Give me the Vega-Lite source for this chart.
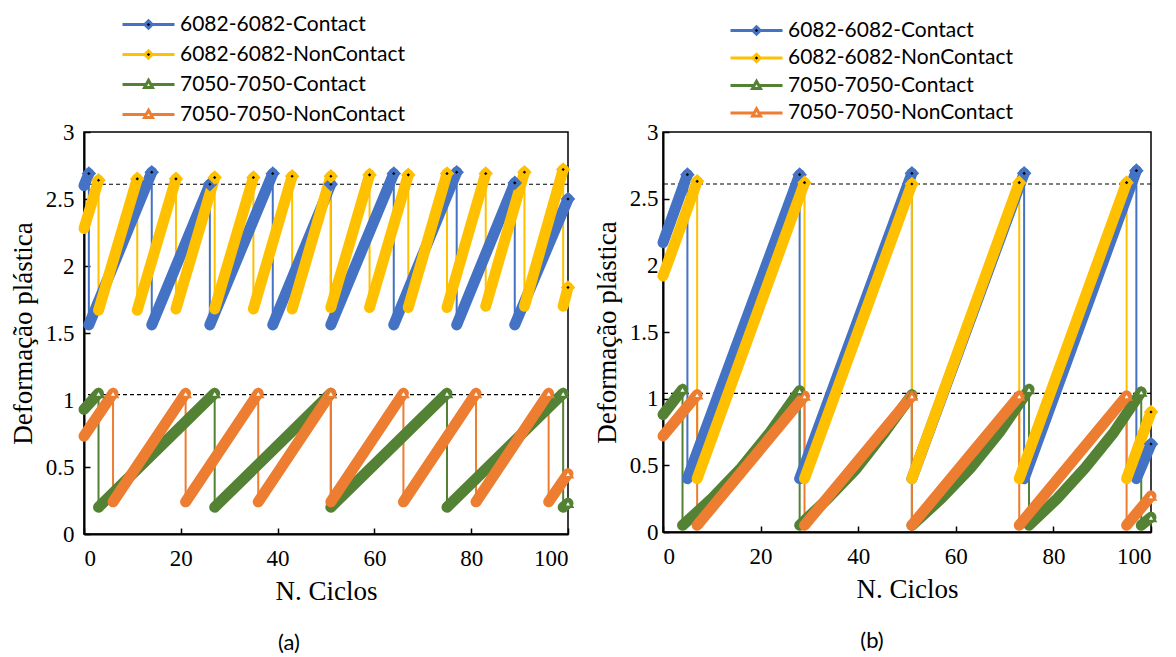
{
  "$schema": "https://vega.github.io/schema/vega-lite/v6.json",
  "background": "white",
  "padding": {"left": 8, "top": 13, "right": 5, "bottom": 5},
  "spacing": 1,
  "config": {
    "view": {"stroke": "black", "strokeWidth": 1.5},
    "axis": {
      "grid": false,
      "labelFont": "Liberation Serif",
      "labelFontSize": 23,
      "labelColor": "black",
      "titleFont": "Liberation Serif",
      "titleFontSize": 27,
      "titleFontWeight": "normal",
      "titleColor": "black",
      "domainColor": "black",
      "domainWidth": 2,
      "tickColor": "black",
      "tickWidth": 1.5,
      "tickSize": -6
    }
  },
  "datasets": {
    "limites": [{"limite": 2.61}, {"limite": 1.04}],
    "medidas": [
      {"painel": "a", "serie": "6082-6082-Contact", "rampa": 0, "ciclo": 0, "def": 2.60},
      {"painel": "a", "serie": "6082-6082-Contact", "rampa": 0, "ciclo": 1, "def": 2.69},
      {"painel": "a", "serie": "6082-6082-Contact", "rampa": 1, "ciclo": 1, "def": 1.56},
      {"painel": "a", "serie": "6082-6082-Contact", "rampa": 1, "ciclo": 14, "def": 2.70},
      {"painel": "a", "serie": "6082-6082-Contact", "rampa": 2, "ciclo": 14, "def": 1.56},
      {"painel": "a", "serie": "6082-6082-Contact", "rampa": 2, "ciclo": 26, "def": 2.61},
      {"painel": "a", "serie": "6082-6082-Contact", "rampa": 3, "ciclo": 26, "def": 1.56},
      {"painel": "a", "serie": "6082-6082-Contact", "rampa": 3, "ciclo": 39, "def": 2.69},
      {"painel": "a", "serie": "6082-6082-Contact", "rampa": 4, "ciclo": 39, "def": 1.56},
      {"painel": "a", "serie": "6082-6082-Contact", "rampa": 4, "ciclo": 51, "def": 2.61},
      {"painel": "a", "serie": "6082-6082-Contact", "rampa": 5, "ciclo": 51, "def": 1.56},
      {"painel": "a", "serie": "6082-6082-Contact", "rampa": 5, "ciclo": 64, "def": 2.69},
      {"painel": "a", "serie": "6082-6082-Contact", "rampa": 6, "ciclo": 64, "def": 1.56},
      {"painel": "a", "serie": "6082-6082-Contact", "rampa": 6, "ciclo": 77, "def": 2.70},
      {"painel": "a", "serie": "6082-6082-Contact", "rampa": 7, "ciclo": 77, "def": 1.56},
      {"painel": "a", "serie": "6082-6082-Contact", "rampa": 7, "ciclo": 89, "def": 2.62},
      {"painel": "a", "serie": "6082-6082-Contact", "rampa": 8, "ciclo": 89, "def": 1.56},
      {"painel": "a", "serie": "6082-6082-Contact", "rampa": 8, "ciclo": 100, "def": 2.50},

      {"painel": "a", "serie": "6082-6082-NonContact", "rampa": 0, "ciclo": 0, "def": 2.28},
      {"painel": "a", "serie": "6082-6082-NonContact", "rampa": 0, "ciclo": 3, "def": 2.64},
      {"painel": "a", "serie": "6082-6082-NonContact", "rampa": 1, "ciclo": 3, "def": 1.67},
      {"painel": "a", "serie": "6082-6082-NonContact", "rampa": 1, "ciclo": 11, "def": 2.65},
      {"painel": "a", "serie": "6082-6082-NonContact", "rampa": 2, "ciclo": 11, "def": 1.67},
      {"painel": "a", "serie": "6082-6082-NonContact", "rampa": 2, "ciclo": 19, "def": 2.65},
      {"painel": "a", "serie": "6082-6082-NonContact", "rampa": 3, "ciclo": 19, "def": 1.68},
      {"painel": "a", "serie": "6082-6082-NonContact", "rampa": 3, "ciclo": 27, "def": 2.66},
      {"painel": "a", "serie": "6082-6082-NonContact", "rampa": 4, "ciclo": 27, "def": 1.68},
      {"painel": "a", "serie": "6082-6082-NonContact", "rampa": 4, "ciclo": 35, "def": 2.66},
      {"painel": "a", "serie": "6082-6082-NonContact", "rampa": 5, "ciclo": 35, "def": 1.68},
      {"painel": "a", "serie": "6082-6082-NonContact", "rampa": 5, "ciclo": 43, "def": 2.67},
      {"painel": "a", "serie": "6082-6082-NonContact", "rampa": 6, "ciclo": 43, "def": 1.68},
      {"painel": "a", "serie": "6082-6082-NonContact", "rampa": 6, "ciclo": 51, "def": 2.67},
      {"painel": "a", "serie": "6082-6082-NonContact", "rampa": 7, "ciclo": 51, "def": 1.69},
      {"painel": "a", "serie": "6082-6082-NonContact", "rampa": 7, "ciclo": 59, "def": 2.68},
      {"painel": "a", "serie": "6082-6082-NonContact", "rampa": 8, "ciclo": 59, "def": 1.69},
      {"painel": "a", "serie": "6082-6082-NonContact", "rampa": 8, "ciclo": 67, "def": 2.68},
      {"painel": "a", "serie": "6082-6082-NonContact", "rampa": 9, "ciclo": 67, "def": 1.69},
      {"painel": "a", "serie": "6082-6082-NonContact", "rampa": 9, "ciclo": 75, "def": 2.69},
      {"painel": "a", "serie": "6082-6082-NonContact", "rampa": 10, "ciclo": 75, "def": 1.69},
      {"painel": "a", "serie": "6082-6082-NonContact", "rampa": 10, "ciclo": 83, "def": 2.69},
      {"painel": "a", "serie": "6082-6082-NonContact", "rampa": 11, "ciclo": 83, "def": 1.70},
      {"painel": "a", "serie": "6082-6082-NonContact", "rampa": 11, "ciclo": 91, "def": 2.70},
      {"painel": "a", "serie": "6082-6082-NonContact", "rampa": 12, "ciclo": 91, "def": 1.70},
      {"painel": "a", "serie": "6082-6082-NonContact", "rampa": 12, "ciclo": 99, "def": 2.72},
      {"painel": "a", "serie": "6082-6082-NonContact", "rampa": 13, "ciclo": 99, "def": 1.70},
      {"painel": "a", "serie": "6082-6082-NonContact", "rampa": 13, "ciclo": 100, "def": 1.84},

      {"painel": "a", "serie": "7050-7050-Contact", "rampa": 0, "ciclo": 0, "def": 0.93},
      {"painel": "a", "serie": "7050-7050-Contact", "rampa": 0, "ciclo": 3, "def": 1.05},
      {"painel": "a", "serie": "7050-7050-Contact", "rampa": 1, "ciclo": 3, "def": 0.20},
      {"painel": "a", "serie": "7050-7050-Contact", "rampa": 1, "ciclo": 27, "def": 1.05},
      {"painel": "a", "serie": "7050-7050-Contact", "rampa": 2, "ciclo": 27, "def": 0.20},
      {"painel": "a", "serie": "7050-7050-Contact", "rampa": 2, "ciclo": 51, "def": 1.05},
      {"painel": "a", "serie": "7050-7050-Contact", "rampa": 3, "ciclo": 51, "def": 0.20},
      {"painel": "a", "serie": "7050-7050-Contact", "rampa": 3, "ciclo": 75, "def": 1.05},
      {"painel": "a", "serie": "7050-7050-Contact", "rampa": 4, "ciclo": 75, "def": 0.20},
      {"painel": "a", "serie": "7050-7050-Contact", "rampa": 4, "ciclo": 99, "def": 1.05},
      {"painel": "a", "serie": "7050-7050-Contact", "rampa": 5, "ciclo": 99, "def": 0.20},
      {"painel": "a", "serie": "7050-7050-Contact", "rampa": 5, "ciclo": 100, "def": 0.23},

      {"painel": "a", "serie": "7050-7050-NonContact", "rampa": 0, "ciclo": 0, "def": 0.73},
      {"painel": "a", "serie": "7050-7050-NonContact", "rampa": 0, "ciclo": 6, "def": 1.05},
      {"painel": "a", "serie": "7050-7050-NonContact", "rampa": 1, "ciclo": 6, "def": 0.24},
      {"painel": "a", "serie": "7050-7050-NonContact", "rampa": 1, "ciclo": 21, "def": 1.05},
      {"painel": "a", "serie": "7050-7050-NonContact", "rampa": 2, "ciclo": 21, "def": 0.24},
      {"painel": "a", "serie": "7050-7050-NonContact", "rampa": 2, "ciclo": 36, "def": 1.05},
      {"painel": "a", "serie": "7050-7050-NonContact", "rampa": 3, "ciclo": 36, "def": 0.24},
      {"painel": "a", "serie": "7050-7050-NonContact", "rampa": 3, "ciclo": 51, "def": 1.05},
      {"painel": "a", "serie": "7050-7050-NonContact", "rampa": 4, "ciclo": 51, "def": 0.24},
      {"painel": "a", "serie": "7050-7050-NonContact", "rampa": 4, "ciclo": 66, "def": 1.05},
      {"painel": "a", "serie": "7050-7050-NonContact", "rampa": 5, "ciclo": 66, "def": 0.24},
      {"painel": "a", "serie": "7050-7050-NonContact", "rampa": 5, "ciclo": 81, "def": 1.05},
      {"painel": "a", "serie": "7050-7050-NonContact", "rampa": 6, "ciclo": 81, "def": 0.24},
      {"painel": "a", "serie": "7050-7050-NonContact", "rampa": 6, "ciclo": 96, "def": 1.05},
      {"painel": "a", "serie": "7050-7050-NonContact", "rampa": 7, "ciclo": 96, "def": 0.24},
      {"painel": "a", "serie": "7050-7050-NonContact", "rampa": 7, "ciclo": 100, "def": 0.45},

      {"painel": "b", "serie": "6082-6082-Contact", "rampa": 0, "ciclo": 0, "def": 2.17},
      {"painel": "b", "serie": "6082-6082-Contact", "rampa": 0, "ciclo": 5, "def": 2.68},
      {"painel": "b", "serie": "6082-6082-Contact", "rampa": 1, "ciclo": 5, "def": 0.40},
      {"painel": "b", "serie": "6082-6082-Contact", "rampa": 1, "ciclo": 28, "def": 2.68},
      {"painel": "b", "serie": "6082-6082-Contact", "rampa": 2, "ciclo": 28, "def": 0.40},
      {"painel": "b", "serie": "6082-6082-Contact", "rampa": 2, "ciclo": 51, "def": 2.69},
      {"painel": "b", "serie": "6082-6082-Contact", "rampa": 3, "ciclo": 51, "def": 0.40},
      {"painel": "b", "serie": "6082-6082-Contact", "rampa": 3, "ciclo": 74, "def": 2.69},
      {"painel": "b", "serie": "6082-6082-Contact", "rampa": 4, "ciclo": 74, "def": 0.40},
      {"painel": "b", "serie": "6082-6082-Contact", "rampa": 4, "ciclo": 97, "def": 2.71},
      {"painel": "b", "serie": "6082-6082-Contact", "rampa": 5, "ciclo": 97, "def": 0.40},
      {"painel": "b", "serie": "6082-6082-Contact", "rampa": 5, "ciclo": 100, "def": 0.66},

      {"painel": "b", "serie": "6082-6082-NonContact", "rampa": 0, "ciclo": 0, "def": 1.92},
      {"painel": "b", "serie": "6082-6082-NonContact", "rampa": 0, "ciclo": 7, "def": 2.63},
      {"painel": "b", "serie": "6082-6082-NonContact", "rampa": 1, "ciclo": 7, "def": 0.40},
      {"painel": "b", "serie": "6082-6082-NonContact", "rampa": 1, "ciclo": 29, "def": 2.62},
      {"painel": "b", "serie": "6082-6082-NonContact", "rampa": 2, "ciclo": 29, "def": 0.40},
      {"painel": "b", "serie": "6082-6082-NonContact", "rampa": 2, "ciclo": 51, "def": 2.61},
      {"painel": "b", "serie": "6082-6082-NonContact", "rampa": 3, "ciclo": 51, "def": 0.40},
      {"painel": "b", "serie": "6082-6082-NonContact", "rampa": 3, "ciclo": 73, "def": 2.62},
      {"painel": "b", "serie": "6082-6082-NonContact", "rampa": 4, "ciclo": 73, "def": 0.40},
      {"painel": "b", "serie": "6082-6082-NonContact", "rampa": 4, "ciclo": 95, "def": 2.62},
      {"painel": "b", "serie": "6082-6082-NonContact", "rampa": 5, "ciclo": 95, "def": 0.40},
      {"painel": "b", "serie": "6082-6082-NonContact", "rampa": 5, "ciclo": 100, "def": 0.90},

      {"painel": "b", "serie": "7050-7050-Contact", "rampa": 0, "ciclo": 0, "def": 0.88},
      {"painel": "b", "serie": "7050-7050-Contact", "rampa": 0, "ciclo": 4, "def": 1.07},
      {"painel": "b", "serie": "7050-7050-Contact", "rampa": 1, "ciclo": 4, "def": 0.05},
      {"painel": "b", "serie": "7050-7050-Contact", "rampa": 1, "ciclo": 10, "def": 0.25},
      {"painel": "b", "serie": "7050-7050-Contact", "rampa": 1, "ciclo": 16, "def": 0.48},
      {"painel": "b", "serie": "7050-7050-Contact", "rampa": 1, "ciclo": 22, "def": 0.75},
      {"painel": "b", "serie": "7050-7050-Contact", "rampa": 1, "ciclo": 28, "def": 1.06},
      {"painel": "b", "serie": "7050-7050-Contact", "rampa": 2, "ciclo": 28, "def": 0.05},
      {"painel": "b", "serie": "7050-7050-Contact", "rampa": 2, "ciclo": 33.75, "def": 0.25},
      {"painel": "b", "serie": "7050-7050-Contact", "rampa": 2, "ciclo": 39.5, "def": 0.47},
      {"painel": "b", "serie": "7050-7050-Contact", "rampa": 2, "ciclo": 45.25, "def": 0.74},
      {"painel": "b", "serie": "7050-7050-Contact", "rampa": 2, "ciclo": 51, "def": 1.03},
      {"painel": "b", "serie": "7050-7050-Contact", "rampa": 3, "ciclo": 51, "def": 0.05},
      {"painel": "b", "serie": "7050-7050-Contact", "rampa": 3, "ciclo": 57, "def": 0.25},
      {"painel": "b", "serie": "7050-7050-Contact", "rampa": 3, "ciclo": 63, "def": 0.48},
      {"painel": "b", "serie": "7050-7050-Contact", "rampa": 3, "ciclo": 69, "def": 0.75},
      {"painel": "b", "serie": "7050-7050-Contact", "rampa": 3, "ciclo": 75, "def": 1.07},
      {"painel": "b", "serie": "7050-7050-Contact", "rampa": 4, "ciclo": 75, "def": 0.05},
      {"painel": "b", "serie": "7050-7050-Contact", "rampa": 4, "ciclo": 80.75, "def": 0.25},
      {"painel": "b", "serie": "7050-7050-Contact", "rampa": 4, "ciclo": 86.5, "def": 0.48},
      {"painel": "b", "serie": "7050-7050-Contact", "rampa": 4, "ciclo": 92.25, "def": 0.74},
      {"painel": "b", "serie": "7050-7050-Contact", "rampa": 4, "ciclo": 98, "def": 1.05},
      {"painel": "b", "serie": "7050-7050-Contact", "rampa": 5, "ciclo": 98, "def": 0.05},
      {"painel": "b", "serie": "7050-7050-Contact", "rampa": 5, "ciclo": 100, "def": 0.11},

      {"painel": "b", "serie": "7050-7050-NonContact", "rampa": 0, "ciclo": 0, "def": 0.72},
      {"painel": "b", "serie": "7050-7050-NonContact", "rampa": 0, "ciclo": 7, "def": 1.03},
      {"painel": "b", "serie": "7050-7050-NonContact", "rampa": 1, "ciclo": 7, "def": 0.05},
      {"painel": "b", "serie": "7050-7050-NonContact", "rampa": 1, "ciclo": 29, "def": 1.02},
      {"painel": "b", "serie": "7050-7050-NonContact", "rampa": 2, "ciclo": 29, "def": 0.05},
      {"painel": "b", "serie": "7050-7050-NonContact", "rampa": 2, "ciclo": 51, "def": 1.02},
      {"painel": "b", "serie": "7050-7050-NonContact", "rampa": 3, "ciclo": 51, "def": 0.05},
      {"painel": "b", "serie": "7050-7050-NonContact", "rampa": 3, "ciclo": 73, "def": 1.02},
      {"painel": "b", "serie": "7050-7050-NonContact", "rampa": 4, "ciclo": 73, "def": 0.05},
      {"painel": "b", "serie": "7050-7050-NonContact", "rampa": 4, "ciclo": 95, "def": 1.02},
      {"painel": "b", "serie": "7050-7050-NonContact", "rampa": 5, "ciclo": 95, "def": 0.05},
      {"painel": "b", "serie": "7050-7050-NonContact", "rampa": 5, "ciclo": 100, "def": 0.27}
    ]
  },
  "resolve": {
    "scale": {"color": "independent", "stroke": "independent", "x": "independent", "y": "independent"},
    "legend": {"color": "independent"}
  },
  "hconcat": [
    {
      "width": 484,
      "height": 402,
      "title": {"text": "(a)", "orient": "bottom", "anchor": "middle", "offset": 29, "dx": -37,
                "font": "Lato", "fontSize": 22, "fontWeight": "normal", "color": "black"},
      "layer": [
        {
          "data": {"name": "limites"},
          "mark": {"type": "rule", "color": "black", "strokeWidth": 1.2, "strokeDash": [4, 3]},
          "encoding": {"y": {"field": "limite", "type": "quantitative", "scale": {"domain": [0, 3]}}}
        },
        {
          "data": {"name": "medidas"},
          "transform": [{"filter": "datum.painel === 'a'"}],
          "mark": {"type": "line", "strokeWidth": 2},
          "encoding": {
            "x": {"field": "ciclo", "type": "quantitative", "scale": {"domain": [0, 100], "nice": false},
                  "axis": {"title": "N. Ciclos", "values": [0, 20, 40, 60, 80, 100], "labelPadding": 19, "titlePadding": 8}},
            "y": {"field": "def", "type": "quantitative", "scale": {"domain": [0, 3], "nice": false},
                  "axis": {"title": "Deformação plástica", "values": [0, 0.5, 1, 1.5, 2, 2.5, 3], "format": "~g", "labelPadding": 16, "titlePadding": 8}},
            "color": {
              "field": "serie", "type": "nominal",
              "scale": {"domain": ["6082-6082-Contact", "6082-6082-NonContact", "7050-7050-Contact", "7050-7050-NonContact"],
                        "range": ["#4472C4", "#FFC000", "#548235", "#ED7D31"]},
              "legend": {
                "title": null, "orient": "none", "legendX": 54, "legendY": -118, "direction": "vertical",
                "padding": 0, "symbolSize": 100, "symbolStrokeWidth": 3, "labelOffset": 21, "rowPadding": 8,
                "labelFont": "Lato", "labelFontSize": 21, "labelColor": "black", "labelLimit": 0,
                "encode": {"symbols": {"update": {
                  "shape": {"signal": "indexof(datum.value, '6082') >= 0 ? 'M-5.2,0H-0.6M0.6,0H5.2M0,-0.75L0.75,0L0,0.75L-0.75,0Z' : 'M-5.2,0H-0.6M0.6,0H5.2M0,-0.85L0.8,0.6L-0.8,0.6Z'"},
                  "fill": {"signal": "indexof(datum.value, '6082') >= 0 ? 'black' : 'white'"},
                  "stroke": {"signal": "datum.value === '6082-6082-Contact' ? '#4472C4' : datum.value === '6082-6082-NonContact' ? '#FFC000' : datum.value === '7050-7050-Contact' ? '#548235' : '#ED7D31'"},
                  "strokeWidth": {"value": 3},
                  "fillOpacity": {"value": 1},
                  "size": {"value": 100}
                }}}
              }
            },
            "order": [{"field": "rampa", "type": "quantitative"}, {"field": "ciclo", "type": "quantitative"}]
          }
        },
        {
          "data": {"name": "medidas"},
          "transform": [{"filter": "datum.painel === 'a'"}],
          "mark": {"type": "line", "strokeWidth": 11, "strokeCap": "round"},
          "encoding": {
            "x": {"field": "ciclo", "type": "quantitative"},
            "y": {"field": "def", "type": "quantitative"},
            "color": {"field": "serie", "type": "nominal"},
            "detail": {"field": "rampa", "type": "nominal"},
            "order": {"field": "ciclo", "type": "quantitative"}
          }
        },
        {
          "data": {"name": "medidas"},
          "transform": [
            {"filter": "datum.painel === 'a' && indexof(datum.serie, '6082') === 0"},
            {"joinaggregate": [{"op": "max", "field": "ciclo", "as": "fim"}], "groupby": ["serie", "rampa"]},
            {"filter": "datum.ciclo === datum.fim"}
          ],
          "mark": {"type": "point", "shape": "diamond", "filled": true, "fill": "black", "size": 80, "strokeWidth": 4, "opacity": 1},
          "encoding": {
            "x": {"field": "ciclo", "type": "quantitative"},
            "y": {"field": "def", "type": "quantitative"},
            "stroke": {"field": "serie", "type": "nominal", "legend": null,
                       "scale": {"domain": ["6082-6082-Contact", "6082-6082-NonContact", "7050-7050-Contact", "7050-7050-NonContact"],
                                 "range": ["#4472C4", "#FFC000", "#548235", "#ED7D31"]}}
          }
        },
        {
          "data": {"name": "medidas"},
          "transform": [
            {"filter": "datum.painel === 'a' && indexof(datum.serie, '7050') === 0"},
            {"joinaggregate": [{"op": "max", "field": "ciclo", "as": "fim"}], "groupby": ["serie", "rampa"]},
            {"filter": "datum.ciclo === datum.fim"}
          ],
          "mark": {"type": "point", "shape": "triangle-up", "filled": true, "fill": "white", "size": 70, "strokeWidth": 2.5, "opacity": 1},
          "encoding": {
            "x": {"field": "ciclo", "type": "quantitative"},
            "y": {"field": "def", "type": "quantitative"},
            "stroke": {"field": "serie", "type": "nominal", "legend": null}
          }
        }
      ]
    },
    {
      "width": 488,
      "height": 400,
      "title": {"text": "(b)", "orient": "bottom", "anchor": "middle", "offset": 29, "dx": -35,
                "font": "Lato", "fontSize": 22, "fontWeight": "normal", "color": "black"},
      "layer": [
        {
          "data": {"name": "limites"},
          "mark": {"type": "rule", "color": "black", "strokeWidth": 1.2, "strokeDash": [4, 3]},
          "encoding": {"y": {"field": "limite", "type": "quantitative", "scale": {"domain": [0, 3]}}}
        },
        {
          "data": {"name": "medidas"},
          "transform": [{"filter": "datum.painel === 'b'"}],
          "mark": {"type": "line", "strokeWidth": 2},
          "encoding": {
            "x": {"field": "ciclo", "type": "quantitative", "scale": {"domain": [0, 100], "nice": false},
                  "axis": {"title": "N. Ciclos", "values": [0, 20, 40, 60, 80, 100], "labelPadding": 19, "titlePadding": 8}},
            "y": {"field": "def", "type": "quantitative", "scale": {"domain": [0, 3], "nice": false},
                  "axis": {"title": "Deformação plástica", "values": [0, 0.5, 1, 1.5, 2, 2.5, 3], "format": "~g", "labelPadding": 11, "titlePadding": 8}},
            "color": {
              "field": "serie", "type": "nominal",
              "scale": {"domain": ["6082-6082-Contact", "6082-6082-NonContact", "7050-7050-Contact", "7050-7050-NonContact"],
                        "range": ["#4472C4", "#FFC000", "#548235", "#ED7D31"]},
              "legend": {
                "title": null, "orient": "none", "legendX": 83, "legendY": -112, "direction": "vertical",
                "padding": 0, "symbolSize": 100, "symbolStrokeWidth": 3, "labelOffset": 21, "rowPadding": 5.5,
                "labelFont": "Lato", "labelFontSize": 21, "labelColor": "black", "labelLimit": 0,
                "encode": {"symbols": {"update": {
                  "shape": {"signal": "indexof(datum.value, '6082') >= 0 ? 'M-5.2,0H-0.6M0.6,0H5.2M0,-0.75L0.75,0L0,0.75L-0.75,0Z' : 'M-5.2,0H-0.6M0.6,0H5.2M0,-0.85L0.8,0.6L-0.8,0.6Z'"},
                  "fill": {"signal": "indexof(datum.value, '6082') >= 0 ? 'black' : 'white'"},
                  "stroke": {"signal": "datum.value === '6082-6082-Contact' ? '#4472C4' : datum.value === '6082-6082-NonContact' ? '#FFC000' : datum.value === '7050-7050-Contact' ? '#548235' : '#ED7D31'"},
                  "strokeWidth": {"value": 3},
                  "fillOpacity": {"value": 1},
                  "size": {"value": 100}
                }}}
              }
            },
            "order": [{"field": "rampa", "type": "quantitative"}, {"field": "ciclo", "type": "quantitative"}]
          }
        },
        {
          "data": {"name": "medidas"},
          "transform": [{"filter": "datum.painel === 'b'"}],
          "mark": {"type": "line", "strokeWidth": 11, "strokeCap": "round"},
          "encoding": {
            "x": {"field": "ciclo", "type": "quantitative"},
            "y": {"field": "def", "type": "quantitative"},
            "color": {"field": "serie", "type": "nominal"},
            "detail": {"field": "rampa", "type": "nominal"},
            "order": {"field": "ciclo", "type": "quantitative"}
          }
        },
        {
          "data": {"name": "medidas"},
          "transform": [
            {"filter": "datum.painel === 'b' && indexof(datum.serie, '6082') === 0"},
            {"joinaggregate": [{"op": "max", "field": "ciclo", "as": "fim"}], "groupby": ["serie", "rampa"]},
            {"filter": "datum.ciclo === datum.fim"}
          ],
          "mark": {"type": "point", "shape": "diamond", "filled": true, "fill": "black", "size": 80, "strokeWidth": 4, "opacity": 1},
          "encoding": {
            "x": {"field": "ciclo", "type": "quantitative"},
            "y": {"field": "def", "type": "quantitative"},
            "stroke": {"field": "serie", "type": "nominal", "legend": null,
                       "scale": {"domain": ["6082-6082-Contact", "6082-6082-NonContact", "7050-7050-Contact", "7050-7050-NonContact"],
                                 "range": ["#4472C4", "#FFC000", "#548235", "#ED7D31"]}}
          }
        },
        {
          "data": {"name": "medidas"},
          "transform": [
            {"filter": "datum.painel === 'b' && indexof(datum.serie, '7050') === 0"},
            {"joinaggregate": [{"op": "max", "field": "ciclo", "as": "fim"}], "groupby": ["serie", "rampa"]},
            {"filter": "datum.ciclo === datum.fim"}
          ],
          "mark": {"type": "point", "shape": "triangle-up", "filled": true, "fill": "white", "size": 70, "strokeWidth": 2.5, "opacity": 1},
          "encoding": {
            "x": {"field": "ciclo", "type": "quantitative"},
            "y": {"field": "def", "type": "quantitative"},
            "stroke": {"field": "serie", "type": "nominal", "legend": null}
          }
        }
      ]
    }
  ]
}
